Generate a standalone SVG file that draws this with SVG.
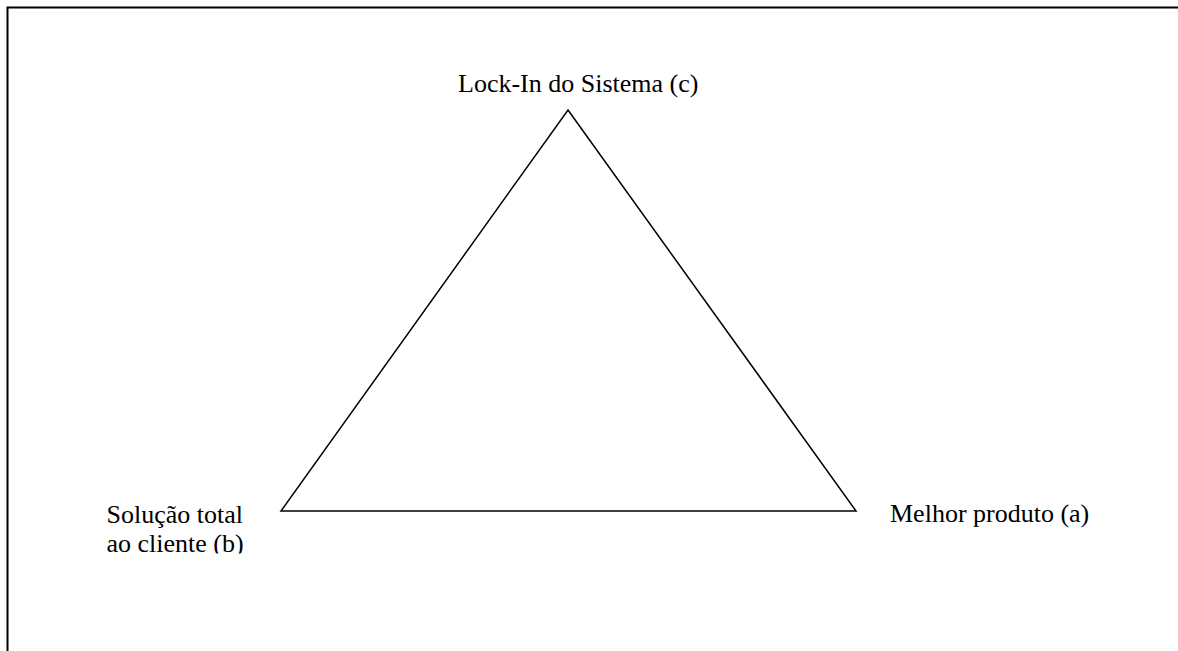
<svg xmlns="http://www.w3.org/2000/svg" width="1178" height="651" viewBox="0 0 1178 651">
<defs>
<style>
.lbl{font-family:"Liberation Serif","Times New Roman",serif;font-size:26px;fill:#000}
.frame{stroke:#000;stroke-width:2;fill:none}
.edge{stroke:#000;stroke-width:1.5;fill:none;stroke-linejoin:miter}
</style>
<clipPath id="clipB"><rect x="0" y="0" width="1178" height="553.5"/></clipPath>
</defs>
<rect width="1178" height="651" fill="#fff"/>
<g id="frame">
<path class="frame" d="M7.5,651 V7.5 H1178"/>
</g>
<g id="connectors">
<path class="edge" d="M568,110 L856,511 L281,511 Z"/>
</g>
<g id="node-c">
<text class="lbl" x="458" y="91.5">Lock-In do Sistema (c)</text>
</g>
<g id="node-a">
<text class="lbl" x="890" y="522">Melhor produto (a)</text>
</g>
<g id="node-b" clip-path="url(#clipB)">
<text class="lbl" x="106.5" y="523">Solução total</text>
<text class="lbl" x="106.5" y="551.5">ao cliente (b)</text>
</g>
</svg>
